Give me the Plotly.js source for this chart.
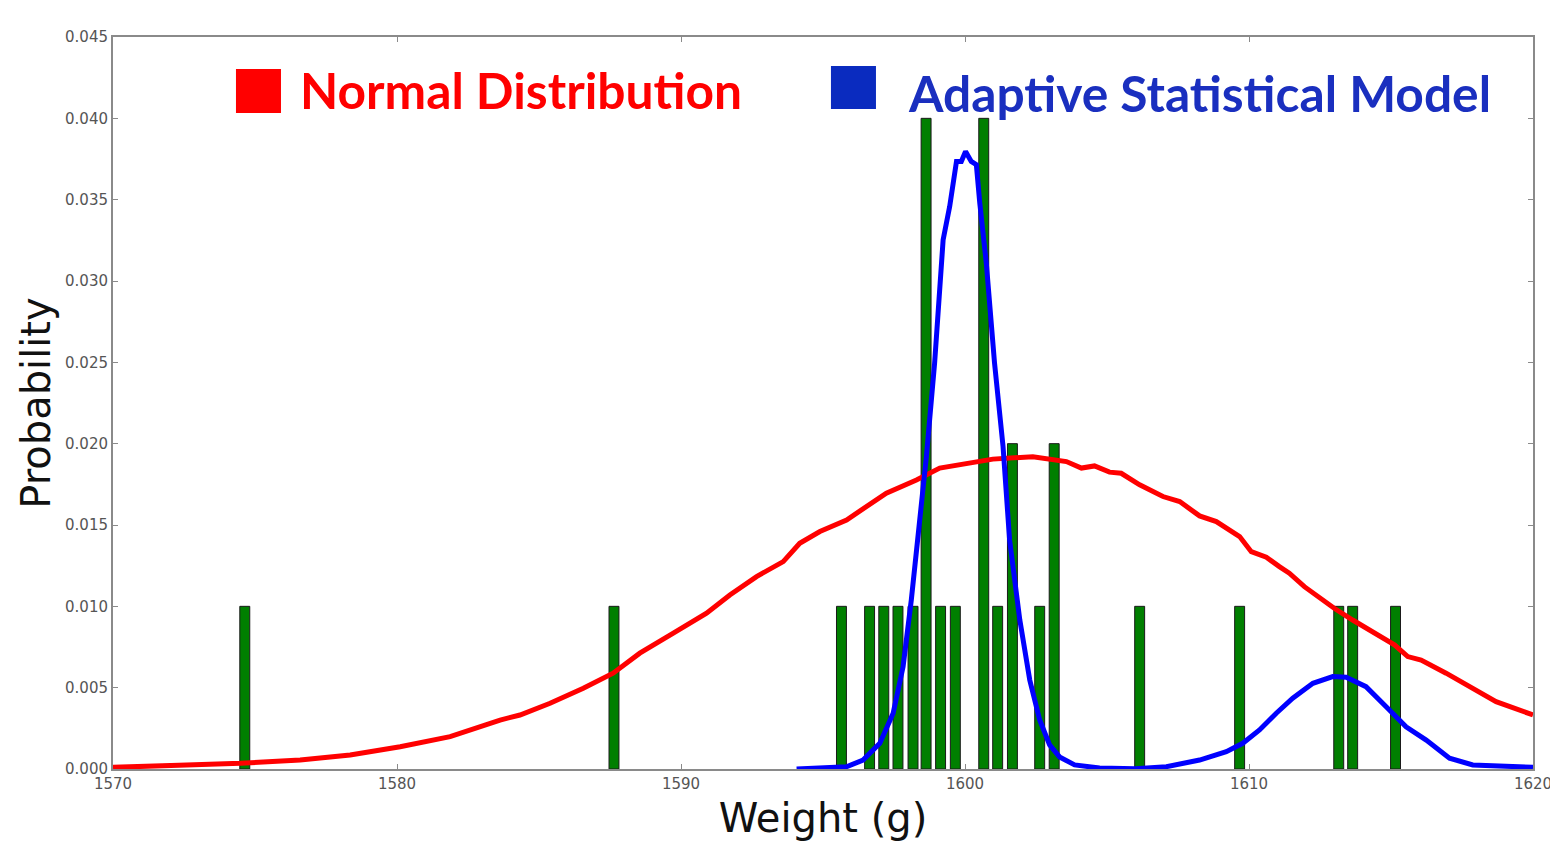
<!DOCTYPE html>
<html>
<head>
<meta charset="utf-8">
<script src="https://cdn.plot.ly/plotly-3.0.1.min.js"></script>
<style>html,body{margin:0;padding:0;background:#fff;}#chart{width:1550px;height:843px;}</style>
</head>
<body>
<div id="chart"></div>
<script>
// Histogram of observed weights (probability per bin)
const barX = [1574.64, 1587.64, 1595.65, 1596.64, 1597.14, 1597.64, 1598.17, 1598.63, 1599.14, 1599.66, 1600.66, 1601.15, 1601.67, 1602.63, 1603.14, 1606.15, 1609.67, 1613.16, 1613.65, 1615.16];
const barY = [0.01, 0.01, 0.01, 0.01, 0.01, 0.01, 0.01, 0.04, 0.01, 0.01, 0.04, 0.01, 0.02, 0.01, 0.02, 0.01, 0.01, 0.01, 0.01, 0.01];

// Normal distribution curve
const normX = [1570, 1573.08, 1574.48, 1576.59, 1578.35, 1580.11, 1581.87, 1583.63, 1584.33, 1585.39, 1586.56, 1587.61, 1588.55, 1589.73, 1590.90, 1591.72, 1592.66, 1593.60, 1594.18, 1594.89, 1595.83, 1597.23, 1598.29, 1599.11, 1599.93, 1600.98, 1602.39, 1603.1, 1603.57, 1604.1, 1604.56, 1605.09, 1605.50, 1606.15, 1606.97, 1607.56, 1608.26, 1608.85, 1609.67, 1610.08, 1610.61, 1611.07, 1611.42, 1611.95, 1613.0, 1613.65, 1614.59, 1615.12, 1615.59, 1616.06, 1616.94, 1618.11, 1618.70, 1620];
const normY = [0.0001, 0.00025, 0.00035, 0.00055, 0.00086, 0.00137, 0.00199, 0.00301, 0.00332, 0.00404, 0.00496, 0.00589, 0.00712, 0.00835, 0.00958, 0.0107, 0.01183, 0.01275, 0.01388, 0.0146, 0.01531, 0.01696, 0.01777, 0.0185, 0.01874, 0.01905, 0.0192, 0.0190, 0.0189, 0.0185, 0.01863, 0.01825, 0.01818, 0.01747, 0.01675, 0.01644, 0.01556, 0.01521, 0.01429, 0.01336, 0.01302, 0.01244, 0.01204, 0.01121, 0.00988, 0.00916, 0.00814, 0.00763, 0.00691, 0.0067, 0.00589, 0.00475, 0.00414, 0.00332];

// Adaptive statistical model curve
const asmX = [1594.07, 1595.83, 1596.41, 1597.0, 1597.47, 1597.82, 1598.11, 1598.29, 1598.47, 1598.64, 1598.93, 1599.23, 1599.46, 1599.70, 1599.87, 1600.02, 1600.22, 1600.40, 1600.52, 1600.75, 1601.04, 1601.34, 1601.57, 1601.93, 1602.28, 1602.63, 1602.98, 1603.33, 1603.86, 1604.74, 1606.0, 1607.09, 1608.26, 1609.2, 1609.78, 1610.37, 1610.96, 1611.54, 1612.25, 1612.95, 1613.42, 1614.12, 1614.83, 1615.53, 1616.24, 1617.06, 1617.88, 1620];
const asmY = [0, 0.00014, 0.00055, 0.00158, 0.00343, 0.00629, 0.0104, 0.01347, 0.01654, 0.0192, 0.02495, 0.03253, 0.03458, 0.03735, 0.03735, 0.03796, 0.03735, 0.03715, 0.03479, 0.0311, 0.02495, 0.01982, 0.01408, 0.00916, 0.00547, 0.00301, 0.00148, 0.00074, 0.00025, 0.00006, 0.00002, 0.00014, 0.00055, 0.00106, 0.00158, 0.0024, 0.00343, 0.00435, 0.00527, 0.00568, 0.00564, 0.00506, 0.00383, 0.0026, 0.00178, 0.00066, 0.00025, 0.0001];

const xTicks = [1570, 1580, 1590, 1600, 1610, 1620];
const yTicks = [0, 0.005, 0.01, 0.015, 0.02, 0.025, 0.03, 0.035, 0.04, 0.045];

const legendLabels = ["Normal Distribution", "Adaptive Statistical Model"];

const traces = [
  {type: 'bar', x: barX, y: barY, width: 0.35,
   marker: {color: '#007f00', line: {color: '#1a1a1a', width: 1}}, hoverinfo: 'x+y'},
  {type: 'scatter', mode: 'lines', x: normX, y: normY, name: legendLabels[0],
   line: {color: '#ff0000', width: 5}},
  {type: 'scatter', mode: 'lines', x: asmX, y: asmY, name: legendLabels[1],
   line: {color: '#0000ff', width: 5}}
];

const axisCommon = {
  showline: true, linecolor: '#8a8a8a', linewidth: 2, mirror: 'ticks',
  ticks: 'inside', ticklen: 5, tickcolor: '#8a8a8a', tickwidth: 1,
  showgrid: false, zeroline: false, ticklabeloverflow: 'allow',
  tickfont: {family: 'DejaVu Sans', size: 15, color: '#555'}
};

const layout = {
  width: 1550, height: 843,
  margin: {l: 113, r: 17, t: 37, b: 74},
  paper_bgcolor: '#fff', plot_bgcolor: '#fff',
  showlegend: false, bargap: 0,
  xaxis: Object.assign({}, axisCommon, {
    range: [1569.9999, 1620.0001], tickvals: xTicks, ticktext: xTicks.map(String),
    title: {text: 'Weight (g)', font: {family: 'DejaVu Sans', size: 40, color: '#111'}, standoff: 12}
  }),
  yaxis: Object.assign({}, axisCommon, {
    range: [0, 0.045], tickvals: yTicks, ticktext: yTicks.map(v => v.toFixed(3)),
    title: {text: 'Probability', font: {family: 'DejaVu Sans', size: 40, color: '#111'}, standoff: 2}
  }),
  shapes: [
    {type: 'rect', xref: 'paper', yref: 'paper', x0: 0.0866, x1: 0.1183, y0: 0.8962, y1: 0.9563,
     fillcolor: '#ff0000', line: {width: 0}},
    {type: 'rect', xref: 'paper', yref: 'paper', x0: 0.5056, x1: 0.5373, y0: 0.9016, y1: 0.9604,
     fillcolor: '#0a2bbf', line: {width: 0}}
  ],
  annotations: [
    {xref: 'paper', yref: 'paper', x: 0.1303, y: 0.9276, xanchor: 'left', yanchor: 'middle',
     text: '<b>' + legendLabels[0] + '</b>', showarrow: false,
     font: {family: 'Lato', size: 49.7, color: '#ff0000'}},
    {xref: 'paper', yref: 'paper', x: 0.5585, y: 0.9235, xanchor: 'left', yanchor: 'middle',
     text: '<b>' + legendLabels[1] + '</b>', showarrow: false,
     font: {family: 'Lato', size: 49.7, color: '#1a2fbf'}}
  ]
};

Plotly.newPlot('chart', traces, layout, {displayModeBar: false, staticPlot: true});
</script>
</body>
</html>
